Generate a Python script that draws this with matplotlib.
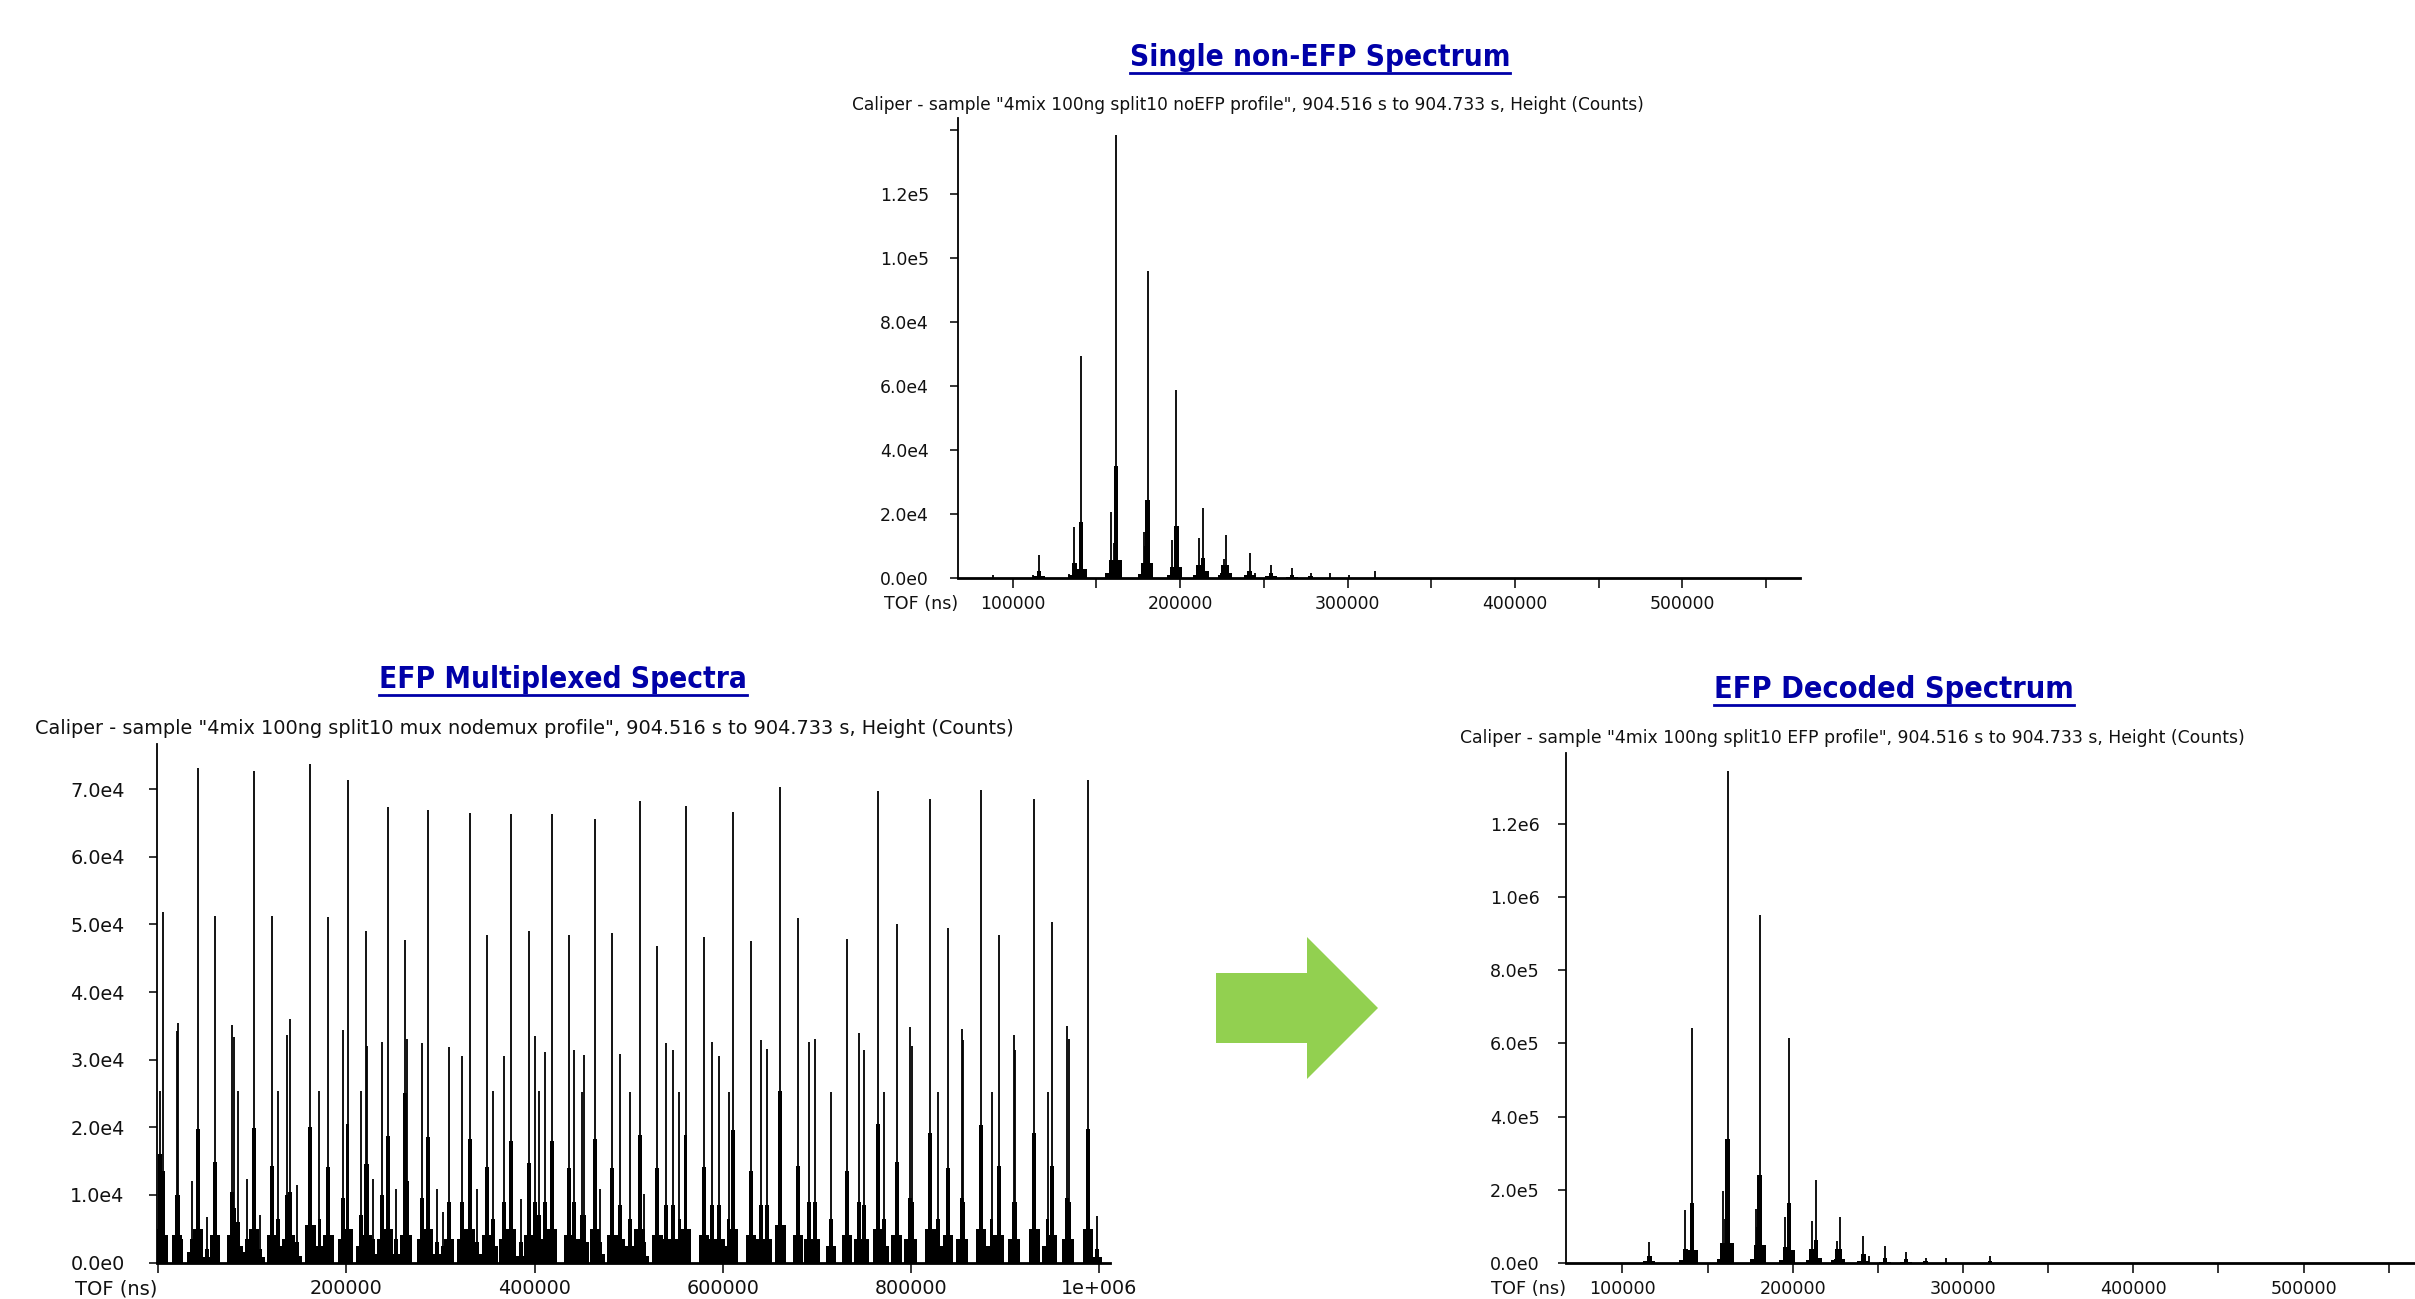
import matplotlib
matplotlib.use('Agg')
import matplotlib.pyplot as plt
from matplotlib.patches import Polygon
from matplotlib.lines import Line2D

W, H = 2415, 1299
BLUE = '#0000A8'
INK = '#111111'

# ---------------- data: single non-EFP spectrum (top) ----------------
single_tof = [88000, 112000, 115800, 133500, 136800, 140800, 158600, 160400, 161800,
              178200, 179000, 180600, 195400, 197800, 211000, 213600, 226000, 227600,
              241600, 244800, 254200, 266800, 278000, 289600, 301000, 316400]
single_height = [800, 800, 7100, 1200, 16000, 69400, 20700, 11000, 138500,
                 14400, 10000, 96000, 11800, 58700, 12500, 21900, 5800, 13400,
                 7600, 1500, 4000, 2900, 1600, 1500, 1000, 2000]
single_core = [0, 0, 2000, 0, 4500, 17500, 5500, 5500, 35000,
               4500, 4500, 24300, 3500, 16200, 4000, 6300, 4000, 4000,
               2200, 0, 1500, 1000, 500, 0, 0, 0]
single_foot = [0, 0, 600, 0, 1000, 2700, 1500, 0, 5500,
               1200, 0, 4500, 1000, 3500, 1000, 2000, 1000, 1500,
               800, 0, 500, 300, 0, 0, 0, 0]
single_xticks = [100000, 200000, 300000, 400000, 500000]
single_xlabels = ['100000', '200000', '300000', '400000', '500000']
single_xminor = [150000, 250000, 350000, 450000, 550000]
single_yticks = [0, 20000, 40000, 60000, 80000, 100000, 120000, 140000]
single_ylabels = ['0.0e0', '2.0e4', '4.0e4', '6.0e4', '8.0e4', '1.0e5', '1.2e5', '']

# ---------------- data: EFP multiplexed spectra (bottom left) ----------------
mux_tof = [1500, 4600, 19900, 20600, 35900, 42000, 51500, 60300, 78600, 80100,
           84700, 94300, 101900, 108400, 121000, 127500, 136600, 140100, 147700, 161800,
           171400, 180900, 196600, 201200, 215300, 220600, 221500, 228300, 237800, 243900,
           253100, 262600, 264000, 280200, 286300, 295800, 302700, 308800, 322900, 330900,
           338600, 349300, 356100, 367200, 374800, 385100, 393900, 400400, 404600, 411100,
           418500, 436300, 442300, 450800, 452400, 464200, 469200, 482700, 490900, 501600,
           511600, 516200, 530500, 539800, 547600, 554000, 560400, 579700, 588600, 596400,
           606100, 611100, 629900, 640600, 647100, 661300, 680200, 691300, 697700, 715200,
           732300, 744800, 749800, 765400, 771500, 784700, 798600, 801400, 820700, 828900,
           839600, 853800, 855600, 874500, 885600, 893100, 909100, 910900, 931200, 945100,
           950100, 965800, 967600, 988300, 997500]
mux_height = [25300, 51800, 34200, 35500, 12100, 73200, 6800, 51300, 35100, 33400,
              25300, 12400, 72700, 7100, 51300, 25300, 33600, 36000, 11500, 73800,
              25300, 51100, 34400, 71400, 25300, 49000, 32000, 12400, 32600, 67400,
              10800, 47700, 33100, 32500, 67000, 10800, 7400, 31900, 30500, 66500,
              10800, 48400, 25300, 30500, 66300, 9400, 49000, 33500, 25300, 31200,
              66300, 48500, 31500, 25200, 30700, 65600, 10800, 48800, 30900, 25200,
              68200, 10200, 46800, 32400, 31400, 25200, 67600, 48200, 32600, 30500,
              25200, 66700, 47500, 32900, 31600, 70400, 51000, 32600, 33100, 25200,
              47900, 33900, 31400, 69800, 25200, 50100, 34800, 32000, 68600, 25200,
              49500, 34600, 32900, 69900, 25200, 48400, 33700, 31400, 68600, 25200,
              50300, 35000, 33100, 71400, 6900]
mux_core = [16000, 13500, 10000, 10000, 3500, 19700, 2000, 14900, 10500, 8000,
            6000, 3500, 19900, 2000, 14300, 6500, 10000, 10500, 3000, 20100,
            6500, 14200, 9500, 20500, 7000, 14500, 14500, 3500, 10000, 18700,
            3500, 25000, 12000, 9500, 18500, 3000, 2500, 9000, 9000, 18300,
            3000, 14200, 6500, 9000, 18000, 3000, 14700, 9000, 7000, 9000,
            18000, 14000, 9000, 7100, 7100, 18200, 3000, 14000, 8500, 6500,
            18900, 3000, 14000, 8500, 8500, 6500, 18900, 14200, 8500, 8500,
            6500, 19600, 13500, 8500, 8500, 25300, 14300, 9000, 9000, 6500,
            13500, 9000, 8500, 20500, 6500, 14800, 9500, 9000, 19100, 6500,
            14000, 9500, 9000, 20400, 6500, 14300, 9000, 9000, 19100, 6500,
            14300, 9500, 9000, 19800, 2000]
mux_foot = [5000, 4000, 4000, 3500, 1500, 5000, 800, 4000, 4000, 3500,
            2500, 1500, 5000, 800, 4000, 2500, 3500, 4000, 1000, 5500,
            2500, 4000, 3500, 5000, 2500, 4000, 4000, 1200, 3500, 5000,
            1200, 4000, 4000, 3500, 5000, 1200, 800, 3500, 3500, 5000,
            1200, 4000, 2500, 3500, 5000, 1000, 4000, 3500, 2500, 3500,
            5000, 4000, 3500, 3000, 3000, 5000, 1200, 4000, 3500, 2500,
            5000, 1000, 4000, 3500, 3500, 2500, 5000, 4000, 3500, 3500,
            2500, 5000, 4000, 3500, 3500, 5500, 4000, 3500, 3500, 2500,
            4000, 3500, 3500, 5000, 2500, 4000, 3500, 3500, 5000, 2500,
            4000, 3500, 3500, 5000, 2500, 4000, 3500, 3500, 5000, 2500,
            4000, 3500, 3500, 5000, 800]
mux_xticks = [0, 200000, 400000, 600000, 800000, 1000000]
mux_xlabels = ['', '200000', '400000', '600000', '800000', '1e+006']
mux_yticks = [0, 10000, 20000, 30000, 40000, 50000, 60000, 70000]
mux_ylabels = ['0.0e0', '1.0e4', '2.0e4', '3.0e4', '4.0e4', '5.0e4', '6.0e4', '7.0e4']

# ---------------- data: EFP decoded spectrum (bottom right) ----------------
dec_tof = [115900, 136900, 140900, 158800, 160300, 161900, 178400, 179200, 180600,
           195700, 197900, 211200, 213600, 226000, 227500, 241500, 245000, 254100,
           266600, 278000, 290000, 315800]
dec_height = [58300, 145800, 643000, 196300, 121500, 1343000, 147700, 99100, 952000,
              126300, 614000, 113700, 225500, 60300, 126300, 74800, 19400, 46600,
              31100, 15000, 13000, 18200]
dec_core = [19400, 39000, 165200, 55400, 55400, 340000, 50500, 50500, 241000,
            43700, 165000, 39000, 63000, 39000, 39000, 24000, 0, 15000,
            10000, 5000, 0, 5000]
dec_foot = [5000, 8000, 36000, 10000, 0, 55400, 10000, 0, 50500,
            8000, 35000, 8000, 15000, 8000, 10000, 6000, 0, 4000,
            3000, 0, 0, 0]
dec_xticks = [100000, 200000, 300000, 400000, 500000]
dec_xlabels = ['100000', '200000', '300000', '400000', '500000']
dec_xminor = [150000, 250000, 350000, 450000, 550000]
dec_yticks = [0, 200000, 400000, 600000, 800000, 1000000, 1200000]
dec_ylabels = ['0.0e0', '2.0e5', '4.0e5', '6.0e5', '8.0e5', '1.0e6', '1.2e6']


def px_rect(left, top, right, bottom):
    return [left / W, 1 - bottom / H, (right - left) / W, (bottom - top) / H]


def draw_spectrum(ax, tof, height, core, foot, core_w, foot_w):
    ax.bar(tof, foot, width=foot_w, color='black', linewidth=0)
    ax.bar(tof, core, width=core_w, color='black', linewidth=0)
    ax.vlines(tof, 0, height, color='black', linewidth=1.3)


def style_axes(ax, xlim, ylim, xt, xl, xminor, yt, yl, ypad, fs):
    ax.set_xlim(xlim)
    ax.set_ylim(ylim)
    ax.patch.set_alpha(0)
    ax.spines['top'].set_visible(False)
    ax.spines['right'].set_visible(False)
    ax.spines['left'].set_linewidth(1.3)
    ax.spines['bottom'].set_linewidth(2.0)
    ax.set_xticks(xt)
    ax.set_xticklabels(xl)
    if xminor:
        ax.set_xticks(xminor, minor=True)
    ax.set_yticks(yt)
    ax.set_yticklabels(yl)
    ax.tick_params(axis='x', which='both', direction='out', length=7.2, width=1.1,
                   pad=5, labelsize=fs, labelcolor=INK)
    ax.tick_params(axis='y', direction='out', length=5.8, width=1.1,
                   pad=ypad, labelsize=fs, labelcolor=INK)
    ax.annotate('TOF (ns)', xy=(0, 0), xycoords='axes fraction',
                xytext=(0, -12.2), textcoords='offset points',
                ha='right', va='top', fontsize=fs + 0.2, color=INK)


fig = plt.figure(figsize=(W / 100, H / 100), dpi=100)

ax1 = fig.add_axes(px_rect(957.7, 118, 1800, 577.7))
draw_spectrum(ax1, single_tof, single_height, single_core, single_foot, 2700, 7000)
style_axes(ax1, (67150, 570300), (0, 143900), single_xticks, single_xlabels,
           single_xminor, single_yticks, single_ylabels, 15, 12.4)

ax2 = fig.add_axes(px_rect(157.1, 743.6, 1109.7, 1262.5))
draw_spectrum(ax2, mux_tof, mux_height, mux_core, mux_foot, 4200, 11000)
style_axes(ax2, (-1170, 1011200), (0, 76760), mux_xticks, mux_xlabels,
           None, mux_yticks, mux_ylabels, 17.5, 13.8)

ax3 = fig.add_axes(px_rect(1566, 752.5, 2423.3, 1263))
draw_spectrum(ax3, dec_tof, dec_height, dec_core, dec_foot, 2700, 7000)
style_axes(ax3, (66900, 570300), (0, 1394600), dec_xticks, dec_xlabels,
           dec_xminor, dec_yticks, dec_ylabels, 13, 12.6)

# titles and captions (pixel centre, text, target width)
titles = [
    (1320, 57, 'Single non-EFP Spectrum', 381),
    (563, 679, 'EFP Multiplexed Spectra', 368),
    (1894, 690, 'EFP Decoded Spectrum', 361),
]
captions = [
    (1248, 105, 'Caliper - sample "4mix 100ng split10 noEFP profile", 904.516 s to 904.733 s, Height (Counts)', 789),
    (524, 729, 'Caliper - sample "4mix 100ng split10 mux nodemux profile", 904.516 s to 904.733 s, Height (Counts)', 972),
    (1852, 738, 'Caliper - sample "4mix 100ng split10 EFP profile", 904.516 s to 904.733 s, Height (Counts)', 781),
]

title_objs = []
for x, y, s, wd in titles:
    t = fig.text(x / W, 1 - y / H, s, ha='center', va='center', fontsize=20,
                 fontweight='bold', fontstretch='condensed', color=BLUE)
    title_objs.append((t, wd))
cap_objs = []
for x, y, s, wd in captions:
    t = fig.text(x / W, 1 - y / H, s, ha='center', va='center', fontsize=12.2, color=INK)
    cap_objs.append((t, wd))

# fit text widths to the reference
fig.canvas.draw()
r = fig.canvas.get_renderer()
for t, wd in title_objs + cap_objs:
    bb = t.get_window_extent(r)
    t.set_fontsize(t.get_fontsize() * wd / bb.width)
fig.canvas.draw()
for t, wd in title_objs:
    bb = t.get_window_extent(r)
    fig.add_artist(Line2D([bb.x0 / W, bb.x1 / W], [(bb.y0 - 1) / H] * 2,
                          transform=fig.transFigure, color=BLUE, linewidth=2.0))

# green block arrow between the two lower panels
arrow_px = [(1216, 973), (1307, 973), (1307, 937), (1378, 1008),
            (1307, 1079), (1307, 1043), (1216, 1043)]
fig.add_artist(Polygon([(x / W, 1 - y / H) for x, y in arrow_px], closed=True,
                       transform=fig.transFigure, facecolor='#92D050', edgecolor='none'))

fig.savefig('out.png', dpi=100)
